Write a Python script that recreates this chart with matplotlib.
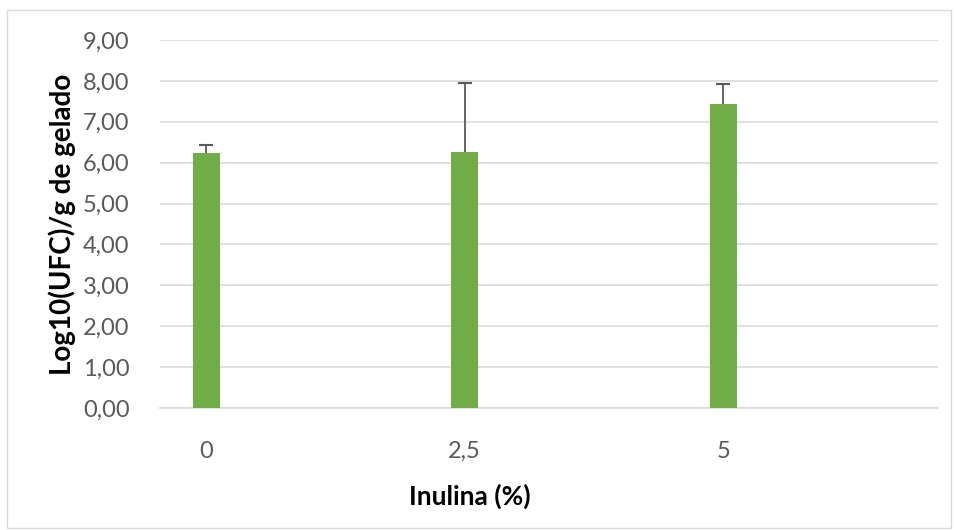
import matplotlib.pyplot as plt
from matplotlib.patches import Rectangle
from matplotlib.ticker import FuncFormatter

plt.rcParams['font.family'] = ['Lato', 'DejaVu Sans']

categories = ['0', '2,5', '5']
means = [6.23, 6.26, 7.43]
err_upper = [6.44, 7.95, 7.92]

BAR_COLOR = '#70ad47'
GRID_COLOR = '#d9d9d9'
TEXT_COLOR = '#595959'

fig = plt.figure(figsize=(9.56, 5.3), dpi=100)
ax = fig.add_axes([0.1674, 0.2302, 0.8138, 0.6943])

x = list(range(len(categories)))
plus = [u - m for u, m in zip(err_upper, means)]
ax.bar(x, means, width=0.104, color=BAR_COLOR, zorder=3)
eb = ax.errorbar(x, means, yerr=[[0] * len(x), plus], fmt='none', ecolor='#595959',
                 elinewidth=1.3, capsize=5, capthick=1.5, zorder=4)
# only the upper cap, like Excel's "plus" error bars
eb[1][0].set_visible(False)

ax.set_ylim(0, 9)
ax.set_yticks(range(0, 10))
ax.yaxis.set_major_formatter(FuncFormatter(lambda v, p: f'{v:.2f}'.replace('.', ',')))
ax.set_xlim(-0.178, 2.83)
ax.set_xticks(x)
ax.set_xticklabels(categories)

ax.grid(axis='y', color=GRID_COLOR, linewidth=1.2, zorder=0)
for side in ['top', 'right', 'left']:
    ax.spines[side].set_visible(False)
ax.spines['bottom'].set_color(GRID_COLOR)
ax.spines['bottom'].set_linewidth(1.2)
ax.tick_params(axis='both', length=0, labelsize=17, colors=TEXT_COLOR)
ax.tick_params(axis='y', pad=22)
ax.tick_params(axis='x', pad=24)

ax.set_ylabel('Log10(UFC)/g de gelado', fontsize=20, fontweight='bold')
ax.yaxis.set_label_coords(-0.108, 0.5)
ax.set_xlabel('Inulina (%)', fontsize=19, fontweight='bold')
ax.xaxis.set_label_coords(0.398, -0.205)

fig.patches.append(Rectangle((0.007, 0.004), 0.988, 0.978, transform=fig.transFigure,
                             fill=False, edgecolor=GRID_COLOR, linewidth=1))

fig.savefig('out.png', dpi=100)
